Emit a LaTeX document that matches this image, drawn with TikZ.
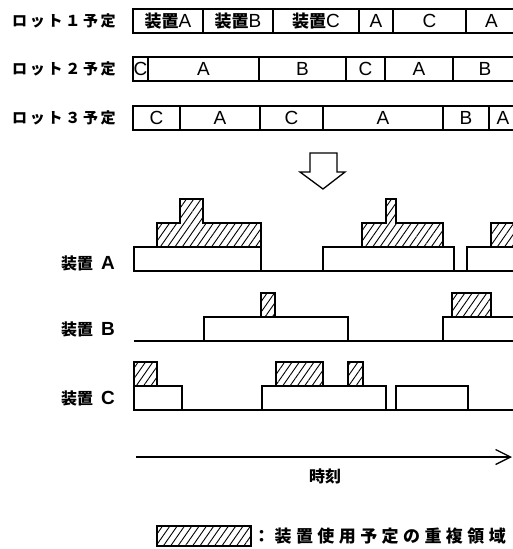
\documentclass[tikz,border=0pt]{standalone}
\usepackage{fontspec}
\newfontfamily\jp{Noto Sans CJK JP}
\newfontfamily\lat{Liberation Sans}
\usetikzlibrary{patterns.meta,arrows.meta}
\tikzset{
  lotlab/.style={font=\jp\bfseries\fontsize{15}{15}\selectfont\addfontfeatures{LetterSpace=18}, inner sep=0pt},
  devlab/.style={font=\jp\bfseries\fontsize{16}{16}\selectfont, inner sep=0pt},
  celltxt/.style={font=\lat\fontsize{19}{19}\selectfont, inner sep=0pt},
  cellbox/.style={draw, line width=1.2pt},
  usebox/.style={draw, line width=1.3pt, fill=white},
  hatchbox/.style={draw, line width=1.1pt, pattern={Lines[angle=55,distance=6pt,line width=0.9pt]}},
  baseline/.style={line width=1.5pt},
}
\newcommand{\kj}[1]{{\jp\bfseries\fontsize{17}{17}\selectfont #1}}
\begin{document}
\begin{tikzpicture}[x=1pt,y=-1pt]
\useasboundingbox (0,0) rectangle (513,549);
\clip (0,0) rectangle (513,549);
% lot rows
\node[lotlab] (l1) at (64,21) {ロット１予定};
\node[lotlab] (l2) at (64,69) {ロット２予定};
\node[lotlab] (l3) at (64,118) {ロット３予定};
\foreach \a/\b/\t [count=\i] in {133/203/{\kj{装置}A},203/273/{\kj{装置}B},273/359/{\kj{装置}C},359/393/A,393/466/C,466/517/A}{
  \draw[cellbox] (\a,9) rectangle (\b,33);
  \node[celltxt] (r1c\i) at ({(\a+\b)/2},21) {\t};
}
\foreach \a/\b/\t [count=\i] in {133/148/C,148/259/A,259/346/B,346/385/C,385/453/A,453/517/B}{
  \draw[cellbox] (\a,57) rectangle (\b,81);
  \node[celltxt] (r2c\i) at ({(\a+\b)/2},69) {\t};
}
\foreach \a/\b/\t [count=\i] in {133/180/C,180/260/A,260/323/C,323/443/A,443/489/B,489/517/A}{
  \draw[cellbox] (\a,106) rectangle (\b,130);
  \node[celltxt] (r3c\i) at ({(\a+\b)/2},118) {\t};
}
% block arrow
\draw[line width=1.3pt, fill=white] (310,153) -- (337,153) -- (337,172) -- (345,172) -- (323,189) -- (300,172) -- (310,172) -- cycle;
% device A
\node[devlab] (dA) at (88,263) {装置\hspace{8pt}{\lat\fontsize{19}{19}\selectfont A}};
\draw[baseline] (134,271) -- (517,271);
\draw[usebox] (134,247) rectangle (261,271);
\draw[usebox] (323,247) rectangle (454,271);
\draw[usebox] (467,247) rectangle (517,271);
\draw[hatchbox] (157,247) -- (157,223) -- (180,223) -- (180,199) -- (203,199) -- (203,223) -- (261,223) -- (261,247) -- cycle;
\draw[hatchbox] (362,247) -- (362,223) -- (386,223) -- (386,199) -- (396,199) -- (396,223) -- (443,223) -- (443,247) -- cycle;
\draw[hatchbox] (491,247) rectangle (517,223);
% device B
\node[devlab] (dB) at (88,329) {装置\hspace{8pt}{\lat\fontsize{19}{19}\selectfont B}};
\draw[baseline] (134,341) -- (517,341);
\draw[usebox] (204,317) rectangle (348,341);
\draw[usebox] (443,317) rectangle (517,341);
\draw[hatchbox] (261,293) rectangle (275,317);
\draw[hatchbox] (452,293) rectangle (491,317);
% device C
\node[devlab] (dC) at (88,398) {装置\hspace{8pt}{\lat\fontsize{19}{19}\selectfont C}};
\draw[baseline] (134,410) -- (517,410);
\draw[usebox] (134,386) rectangle (182,410);
\draw[usebox] (262,386) rectangle (386,410);
\draw[usebox] (396,386) rectangle (468,410);
\draw[hatchbox] (134,362) rectangle (157,386);
\draw[hatchbox] (276,362) rectangle (323,386);
\draw[hatchbox] (348,362) rectangle (363,386);
% time axis
\coordinate (t0) at (136,457);
\coordinate (t1) at (512,457);
\draw[line width=1.3pt, -{Straight Barb[length=15pt,width=15pt,line width=1.3pt]}] (t0) -- (t1);
\node[devlab] (time) at (325,476) {時刻};
% legend
\draw[hatchbox] (157,526) rectangle (251,546);
\node[devlab, anchor=west, font=\jp\bfseries\fontsize{17}{17}\selectfont\addfontfeatures{LetterSpace=26}] (leg) at (253,536) {：装置使用予定の重複領域};
\end{tikzpicture}
\end{document}
